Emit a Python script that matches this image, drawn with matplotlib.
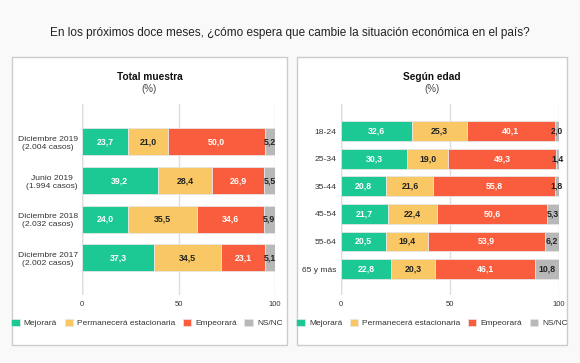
import matplotlib
matplotlib.use("Agg")
import matplotlib.pyplot as plt
from matplotlib.patches import Rectangle, Patch
import numpy as np

plt.rcParams['font.family'] = ['Liberation Sans', 'DejaVu Sans']

series_names = ["Mejorará", "Permanecerá estacionaria", "Empeorará", "NS/NC"]
colors = ["#1cc893", "#f9c865", "#f95d3e", "#b8b8b8"]
text_colors = ["white", "#222222", "white", "#222222"]

left_cats = ["Diciembre 2019\n(2.004 casos)", "Junio 2019\n(1.994 casos)",
             "Diciembre 2018\n(2.032 casos)", "Diciembre 2017\n(2.002 casos)"]
left_mejorara = [23.7, 39.2, 24.0, 37.3]
left_perm = [21.0, 28.4, 35.5, 34.5]
left_empeorara = [50.0, 26.9, 34.6, 23.1]
left_nsnc = [5.2, 5.5, 5.9, 5.1]

right_cats = ["18-24", "25-34", "35-44", "45-54", "55-64", "65 y más"]
right_mejorara = [32.6, 30.3, 20.8, 21.7, 20.5, 22.8]
right_perm = [25.3, 19.0, 21.6, 22.4, 19.4, 20.3]
right_empeorara = [40.1, 49.3, 55.8, 50.6, 53.9, 46.1]
right_nsnc = [2.0, 1.4, 1.8, 5.3, 6.2, 10.8]

W, H = 580, 363
fig = plt.figure(figsize=(W / 100, H / 100), dpi=100)
fig.patch.set_facecolor("#f9f9f9")

def px_rect(x0, y0, x1, y1):
    return [x0 / W, 1 - y1 / H, (x1 - x0) / W, (y1 - y0) / H]

# panels
for (x0, y0, x1, y1) in [(12, 57, 287, 345), (297, 57, 567, 345)]:
    fig.patches.append(Rectangle((x0 / W, 1 - y1 / H), (x1 - x0) / W, (y1 - y0) / H,
                                 transform=fig.transFigure, facecolor="white",
                                 edgecolor="#cccccc", linewidth=1.0, zorder=-5))

fig.text(0.5, 1 - 33 / H, "En los próximos doce meses, ¿cómo espera que cambie la situación económica en el país?",
         ha="center", va="center", fontsize=8.5, color="#222222")

def draw_panel(rect, cats, vals, bar_h, ylim, cat_fs, title, tx):
    ax = fig.add_axes(px_rect(*rect))
    ax.set_facecolor("none")
    y = np.arange(len(cats))
    left = np.zeros(len(cats))
    for i, v in enumerate(vals):
        v = np.array(v)
        ax.barh(y, v, left=left, height=bar_h, color=colors[i], edgecolor="#e6e6e6",
                linewidth=0.6, zorder=3)
        for j in range(len(cats)):
            cx = left[j] + v[j] / 2
            txt = f"{v[j]:.1f}".replace(".", ",")
            ax.text(cx, y[j], txt, ha="center", va="center", fontsize=6.3,
                    fontweight="bold", color=text_colors[i], zorder=4)
        left += v
    ax.set_xlim(0, 100)
    ax.set_ylim(*ylim)
    ax.set_yticks(y)
    ax.set_yticklabels(cats, fontsize=cat_fs, color="#333333", multialignment="center")
    ax.set_xticks([0, 50, 100])
    ax.set_xticklabels(["0", "50", "100"], fontsize=5.5, color="#333333")
    ax.tick_params(length=0, pad=3)
    ax.tick_params(axis="x", pad=4)
    for s in ax.spines.values():
        s.set_visible(False)
    ax.grid(axis="x", color="#dddddd", linewidth=1.0, zorder=0)
    ax.axvline(0, color="#cccccc", linewidth=1.0, zorder=1)
    fig.text(tx / W, 1 - 77 / H, title, ha="center", va="center", fontsize=7.3,
             fontweight="bold", color="#111111")
    fig.text(tx / W, 1 - 89 / H, "(%)", ha="center", va="center", fontsize=7,
             color="#444444")
    return ax

draw_panel((82, 104, 275, 295), left_cats,
           [left_mejorara, left_perm, left_empeorara, left_nsnc],
           0.70, (3.96, -0.98), 6.1, "Total muestra", 149.5)
draw_panel((341, 104, 559, 295), right_cats,
           [right_mejorara, right_perm, right_empeorara, right_nsnc],
           0.72, (5.94, -0.98), 6.1, "Según edad", 432)

handles = [Patch(facecolor=c, edgecolor="#e6e6e6", linewidth=0.5) for c in colors]
for cx in [147, 432]:
    fig.legend(handles, series_names, loc="center", bbox_to_anchor=(cx / W, 1 - 323 / H),
               ncol=4, frameon=False, fontsize=6.0, handlelength=1.0, handleheight=1.0,
               handletextpad=0.5, columnspacing=0.9, labelcolor="#333333",
               borderpad=0.2)

fig.savefig("out.png", dpi=100, facecolor=fig.get_facecolor())
